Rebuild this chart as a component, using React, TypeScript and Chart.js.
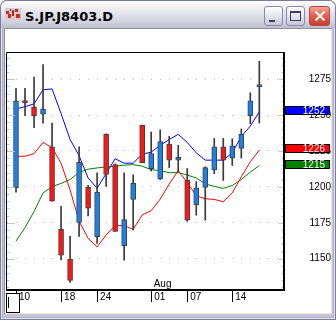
import React, { useEffect, useRef } from 'react';
import { Chart, registerables } from 'chart.js';
Chart.register(...registerables);

// ---- data ----
const openP = [1199.4, 1260.1, 1255.8, 1250.6, 1227.9, 1170.4, 1149.8, 1175.2, 1199.6, 1165.3, 1236.6, 1215.5, 1159.1, 1191.3, 1242.8, 1212.6, 1205.6, 1229.8, 1218.6, 1204.5, 1187.6, 1199.6, 1211.8, 1227.9, 1220.0, 1226.8, 1249.6, 1269.8];
const highP = [1268.6, 1268.6, 1276.4, 1285.1, 1244.4, 1186.5, 1165.5, 1227.9, 1201.0, 1209.7, 1237.0, 1216.0, 1209.7, 1208.3, 1243.0, 1238.2, 1239.7, 1235.1, 1228.9, 1212.8, 1203.7, 1214.0, 1233.7, 1233.7, 1233.5, 1240.3, 1265.5, 1287.4];
const lowP = [1196.3, 1249.6, 1241.3, 1244.4, 1190.0, 1149.2, 1133.4, 1165.5, 1179.7, 1160.7, 1200.4, 1169.0, 1148.9, 1170.0, 1216.9, 1211.0, 1205.0, 1213.4, 1210.3, 1176.0, 1180.3, 1176.8, 1209.2, 1204.5, 1214.9, 1220.0, 1244.0, 1244.4];
const closeP = [1259.9, 1258.6, 1249.6, 1254.1, 1190.1, 1152.4, 1134.9, 1217.1, 1185.1, 1196.3, 1208.7, 1169.0, 1177.2, 1202.5, 1216.9, 1223.1, 1231.6, 1218.6, 1220.5, 1176.8, 1199.4, 1213.4, 1227.9, 1218.6, 1228.5, 1236.6, 1259.9, 1271.3];
const maBlue = [1254.3, 1255.8, 1257.8, 1267.6, 1268.2, 1251.0, 1233.0, 1221.7, 1206.2, 1199.0, 1209.3, 1219.6, 1216.5, 1216.5, 1222.7, 1224.2, 1228.9, 1233.0, 1236.6, 1231.0, 1223.7, 1218.6, 1218.6, 1218.6, 1223.7, 1235.1, 1242.3, 1252.3];
const maRed = [1221.3, 1221.3, 1223.1, 1231.0, 1227.3, 1216.5, 1197.9, 1176.2, 1164.2, 1158.2, 1166.5, 1173.1, 1173.1, 1170.4, 1180.4, 1183.4, 1191.5, 1202.0, 1211.3, 1203.1, 1193.8, 1191.7, 1191.3, 1189.6, 1195.8, 1207.0, 1217.5, 1225.6];
const maGreen = [1162.2, 1171.7, 1182.8, 1195.8, 1200.2, 1202.4, 1205.1, 1210.1, 1212.3, 1213.2, 1213.8, 1214.4, 1215.1, 1215.5, 1214.4, 1212.0, 1211.3, 1209.9, 1209.9, 1208.2, 1206.2, 1202.0, 1200.4, 1198.9, 1201.0, 1205.1, 1210.3, 1214.8];
const xTickIndex = [0, 5, 9, 15, 19, 24];
const xTickLabels = ['10', '18', '24', '01', '07', '14'];
const monthIndex = [15];
const monthLabels = ['Aug'];
const yMin = 1128.9;
const yMax = 1293.2;
const xMin = -1;
const xMax = 29.85;

const UP = '#1a80ec';
const DOWN = '#ff1414';
const FONT = '"Liberation Sans", Arial, sans-serif';

const decor = {
  id: 'decor',
  afterDraw(chart: any) {
    const { ctx, chartArea: a, scales } = chart;
    const x = scales.x;
    const y = scales.y;
    ctx.save();
    // inward tick marks on left and right borders
    ctx.strokeStyle = '#c4c4c4';
    ctx.lineWidth = 1;
    y.ticks.forEach((t: any) => {
      const py = Math.round(y.getPixelForValue(t.value)) + 0.5;
      const major = Math.round(t.value) % 25 === 0;
      ctx.beginPath();
      ctx.moveTo(a.left, py);
      ctx.lineTo(a.left + (major ? 8 : 2.5), py);
      ctx.moveTo(a.right - (major ? 6 : 3.5), py);
      ctx.lineTo(a.right, py);
      ctx.stroke();
    });
    // plot frame
    ctx.strokeStyle = '#000';
    ctx.lineWidth = 1;
    ctx.beginPath();
    ctx.moveTo(a.left - 0.5, a.bottom);
    ctx.lineTo(a.left - 0.5, a.top - 0.5);
    ctx.lineTo(a.right, a.top - 0.5);
    ctx.stroke();
    ctx.lineWidth = 2;
    ctx.beginPath();
    ctx.moveTo(a.right - 1, a.top - 1);
    ctx.lineTo(a.right - 1, a.bottom + 2);
    ctx.moveTo(a.left - 1, a.bottom + 1);
    ctx.lineTo(a.right, a.bottom + 1);
    ctx.stroke();
    // month labels
    ctx.fillStyle = '#000';
    ctx.font = '10px ' + FONT;
    ctx.textAlign = 'left';
    ctx.textBaseline = 'alphabetic';
    monthIndex.forEach((mi, k) => {
      ctx.fillText(monthLabels[k], x.getPixelForValue(mi) + 2.5, a.bottom - 2);
    });
    // last-value tags
    const tagColors = ['#0000ff', '#ff0000', '#008000'];
    [maBlue, maRed, maGreen].forEach((arr, k) => {
      const v = arr[arr.length - 1];
      const py = Math.round(y.getPixelForValue(v));
      const top = py - 6;
      ctx.fillStyle = tagColors[k];
      ctx.fillRect(a.right, top, 45, 9);
      ctx.strokeStyle = '#000';
      ctx.lineWidth = 1;
      ctx.strokeRect(a.right + 0.5, top + 0.5, 44, 8);
      ctx.fillStyle = '#fff';
      ctx.textAlign = 'right';
      ctx.textBaseline = 'middle';
      ctx.fillText(String(Math.round(v)), a.right + 40, top + 5);
    });
    // bottom-left box
    ctx.fillStyle = '#fff';
    ctx.fillRect(1.5, 264.5, 13, 19);
    ctx.strokeStyle = '#000';
    ctx.lineWidth = 1;
    ctx.strokeRect(1.5, 264.5, 13, 19);
    ctx.beginPath();
    ctx.moveTo(3.5, 268);
    ctx.lineTo(3.5, 279);
    ctx.stroke();
    ctx.restore();
  },
};

function ChartCanvas() {
  const ref = useRef<HTMLCanvasElement | null>(null);
  useEffect(() => {
    if (!ref.current) return;
    const colors = closeP.map((c, i) => (c >= openP[i] ? UP : DOWN));
    const chart = new Chart(ref.current, {
      type: 'bar',
      data: {
        datasets: [
          {
            type: 'bar',
            label: 'body',
            data: openP.map((o, i) => ({ x: i, y: [o, closeP[i]] })) as any,
            backgroundColor: colors,
            borderColor: '#404040',
            borderWidth: 1,
            borderSkipped: false,
            barThickness: 5,
            grouped: false,
            order: 0,
          } as any,
          {
            type: 'bar',
            label: 'wick',
            data: lowP.map((l, i) => ({ x: i, y: [l, highP[i]] })) as any,
            backgroundColor: '#3a3a3a',
            borderWidth: 0,
            barThickness: 1,
            grouped: false,
            order: 1,
          } as any,
          {
            type: 'line',
            label: 'ma1',
            data: maBlue.map((v, i) => ({ x: i, y: v })),
            borderColor: '#0000ff',
            borderWidth: 1,
            pointRadius: 0,
            tension: 0,
            order: 2,
          } as any,
          {
            type: 'line',
            label: 'ma2',
            data: maRed.map((v, i) => ({ x: i, y: v })),
            borderColor: '#ff0000',
            borderWidth: 1,
            pointRadius: 0,
            tension: 0,
            order: 2,
          } as any,
          {
            type: 'line',
            label: 'ma3',
            data: maGreen.map((v, i) => ({ x: i, y: v })),
            borderColor: '#008000',
            borderWidth: 1,
            pointRadius: 0,
            tension: 0,
            order: 2,
          } as any,
        ],
      },
      options: {
        animation: false,
        responsive: false,
        maintainAspectRatio: false,
        layout: { padding: { left: 2, top: 4, right: 0, bottom: 0 } },
        plugins: { legend: { display: false }, tooltip: { enabled: false } },
        scales: {
          x: {
            type: 'linear',
            min: xMin,
            max: xMax,
            offset: false,
            afterBuildTicks: (s: any) => {
              s.ticks = xTickIndex.map((v) => ({ value: v }));
            },
            afterFit: (s: any) => {
              s.height = 15;
            },
            ticks: {
              autoSkip: false,
              maxRotation: 0,
              minRotation: 0,
              align: 'start',
              labelOffset: 3,
              padding: -11,
              color: '#000',
              font: { family: FONT, size: 10 },
              callback: (_v: any, i: number) => xTickLabels[i] ?? '',
            },
            grid: { drawOnChartArea: false, drawTicks: true, tickLength: 13, color: '#000', offset: false },
            border: { display: false },
          } as any,
          y: {
            type: 'linear',
            position: 'right',
            min: yMin,
            max: yMax,
            afterFit: (s: any) => {
              s.width = 46;
            },
            ticks: {
              stepSize: 5,
              autoSkip: false,
              includeBounds: false,
              crossAlign: 'far',
              padding: 18,
              color: '#000',
              font: { family: FONT, size: 10 },
              callback: (v: any) => (Math.round(v) % 25 === 0 ? String(Math.round(v)) : ''),
            },
            grid: {
              drawTicks: false,
              color: (c: any) => (c.tick && Math.round(c.tick.value) % 25 === 0 ? '#bdbdbd' : 'rgba(0,0,0,0)'),
            },
            border: { display: false, dash: [1, 8] },
          } as any,
        },
      },
      plugins: [decor],
    });
    return () => chart.destroy();
  }, []);
  return <canvas ref={ref} width={326} height={284} style={{ display: 'block', width: 326, height: 284 }} />;
}

const btnBase: React.CSSProperties = {
  position: 'absolute',
  top: 6,
  height: 20,
  boxSizing: 'border-box',
  borderRadius: 3,
  border: '1px solid #8a8aa6',
};

export default function App() {
  return (
    <div style={{ position: 'fixed', left: 0, top: 0, width: 336, height: 320, overflow: 'hidden', background: '#fff' }}>
      <div
        style={{
          position: 'absolute',
          left: 0,
          top: 0,
          width: 336,
          height: 320,
          borderRadius: '7px 7px 0 0',
          background: '#c4c4d4',
          boxShadow: 'inset 0 0 0 1px #7c7c9c, inset 0 0 0 2px #e4e4ee, inset 0 0 0 3px #b0b0c6',
        }}
      />
      <div
        style={{
          position: 'absolute',
          left: 1,
          top: 1,
          width: 334,
          height: 27,
          borderRadius: '6px 6px 0 0',
          background: 'linear-gradient(to bottom, #ffffff 0%, #f4f4f8 15%, #e4e4ec 45%, #d4d4e0 75%, #bdbdcd 100%)',
        }}
      />
      {/* icon */}
      <svg style={{ position: 'absolute', left: 5, top: 8 }} width={16} height={12}>
        <rect x={0} y={0} width={16} height={12} fill="#d0d0d0" />
        <rect x={1} y={3} width={3} height={3} fill="#e02020" />
        <rect x={3} y={6} width={3} height={4} fill="#e02020" />
        <rect x={7} y={2} width={2} height={6} fill="#c02020" />
        <rect x={10} y={1} width={3} height={3} fill="#e02020" />
        <rect x={11} y={6} width={4} height={4} fill="#e02020" />
        <rect x={5} y={1} width={1} height={2} fill="#404040" />
      </svg>
      <div
        style={{
          position: 'absolute',
          left: 25,
          top: 9,
          fontFamily: '"DejaVu Sans", sans-serif',
          fontWeight: 'bold',
          fontSize: 13,
          lineHeight: '15px',
          color: '#000',
          whiteSpace: 'nowrap',
        }}
      >
        S.JP.J8403.D
      </div>
      {/* buttons */}
      <div style={{ ...btnBase, left: 264, width: 19, background: 'linear-gradient(#ffffff, #e8e8f0 45%, #c6c6d8)' }}>
        <div style={{ position: 'absolute', left: 4, top: 13, width: 6, height: 2, background: '#3c3c5c' }} />
      </div>
      <div style={{ ...btnBase, left: 286, width: 19, background: 'linear-gradient(#ffffff, #e8e8f0 45%, #c6c6d8)' }}>
        <div
          style={{
            position: 'absolute',
            left: 3,
            top: 4,
            width: 11,
            height: 10,
            boxSizing: 'border-box',
            border: '1px solid #3c3c5c',
            borderTopWidth: 2,
          }}
        />
      </div>
      <div style={{ ...btnBase, left: 309, width: 21, border: '1px solid #b04848', background: 'linear-gradient(#f6a898, #e66450 45%, #cc3c2a)' }}>
        <svg style={{ position: 'absolute', left: 4, top: 3 }} width={12} height={12}>
          <path d="M1.5 1.5 L10.5 10.5 M10.5 1.5 L1.5 10.5" stroke="#fff" strokeWidth={2} />
        </svg>
      </div>
      {/* client edge */}
      <div style={{ position: 'absolute', left: 4, top: 28, width: 328, height: 286, background: '#ece9d8', boxShadow: 'inset 1px 1px 0 #8e8ea8' }} />
      <div style={{ position: 'absolute', left: 5, top: 29, width: 326, height: 284, background: '#fff' }}>
        <ChartCanvas />
      </div>
    </div>
  );
}
